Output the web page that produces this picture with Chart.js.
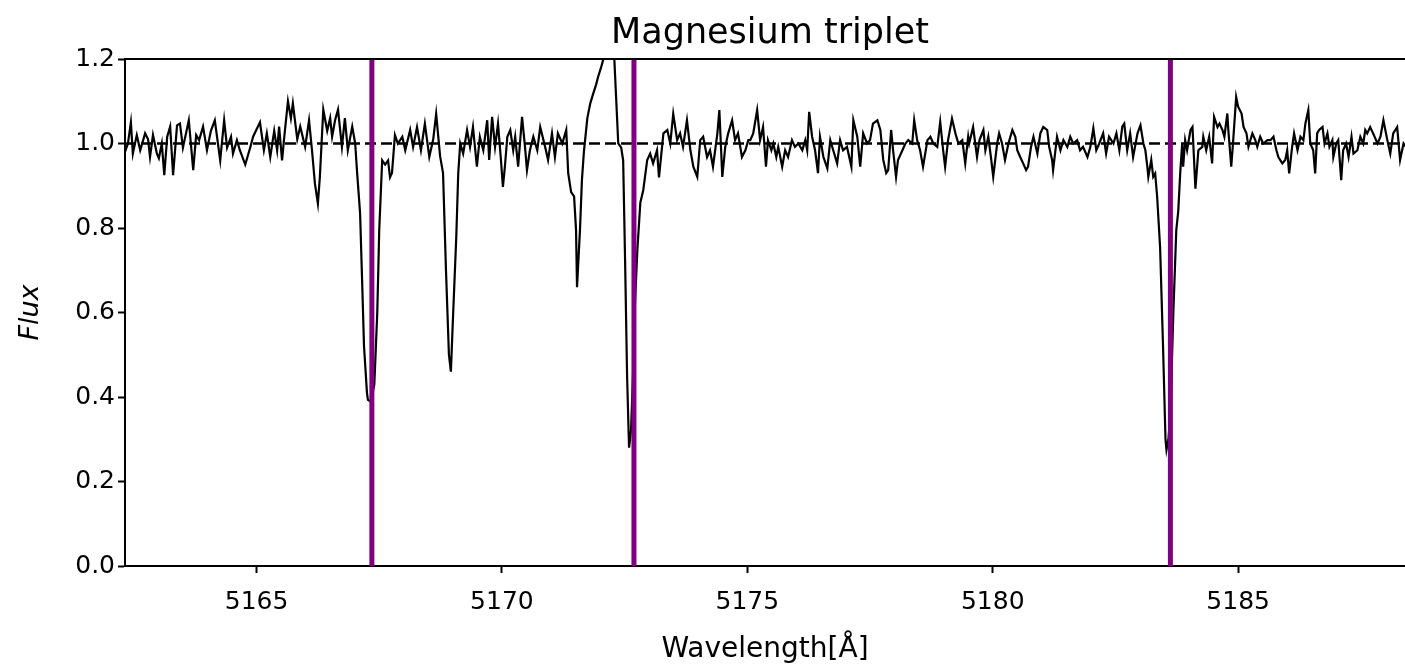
<!DOCTYPE html>
<html>
<head>
<meta charset="utf-8">
<script src="https://cdn.jsdelivr.net/npm/chart.js@4.4.1/dist/chart.umd.min.js"></script>
<style>
  html, body { margin: 0; padding: 0; background: #fff; }
  #spec { display: block; }
</style>
</head>
<body>
<canvas id="spec" width="1405" height="669"></canvas>
<script>
// spectrum (wavelength in angstrom, normalised flux)
const wavelength = [
  5162.32, 5162.38, 5162.44, 5162.48, 5162.56, 5162.63, 5162.73, 5162.79, 5162.83, 5162.89,
  5162.97, 5163.01, 5163.07, 5163.12, 5163.18, 5163.24, 5163.30, 5163.38, 5163.44, 5163.50,
  5163.62, 5163.71, 5163.77, 5163.83, 5163.91, 5163.99, 5164.07, 5164.15, 5164.26, 5164.34,
  5164.40, 5164.48, 5164.52, 5164.60, 5164.66, 5164.77, 5164.87, 5164.93, 5165.07, 5165.15,
  5165.21, 5165.28, 5165.36, 5165.42, 5165.46, 5165.52, 5165.56, 5165.64, 5165.70, 5165.74,
  5165.83, 5165.89, 5165.99, 5166.07, 5166.13, 5166.19, 5166.25, 5166.29, 5166.36, 5166.44,
  5166.50, 5166.54, 5166.60, 5166.66, 5166.74, 5166.80, 5166.86, 5166.95, 5167.01, 5167.05,
  5167.11, 5167.15, 5167.19, 5167.25, 5167.27, 5167.31, 5167.35, 5167.40, 5167.46, 5167.50,
  5167.56, 5167.62, 5167.68, 5167.72, 5167.76, 5167.82, 5167.88, 5167.97, 5168.03, 5168.13,
  5168.19, 5168.27, 5168.35, 5168.43, 5168.52, 5168.60, 5168.66, 5168.74, 5168.80, 5168.86,
  5168.92, 5168.96, 5169.00, 5169.07, 5169.11, 5169.15, 5169.21, 5169.29, 5169.35, 5169.41,
  5169.49, 5169.55, 5169.62, 5169.70, 5169.74, 5169.80, 5169.86, 5169.92, 5169.98, 5170.02,
  5170.06, 5170.11, 5170.17, 5170.23, 5170.27, 5170.33, 5170.41, 5170.47, 5170.51, 5170.57,
  5170.64, 5170.72, 5170.78, 5170.88, 5170.94, 5171.02, 5171.08, 5171.14, 5171.23, 5171.31,
  5171.35, 5171.41, 5171.47, 5171.51, 5171.53, 5171.59, 5171.63, 5171.67, 5171.74, 5171.80,
  5171.86, 5171.92, 5171.96, 5172.02, 5172.06, 5172.10, 5172.16, 5172.23, 5172.29, 5172.33,
  5172.37, 5172.43, 5172.47, 5172.51, 5172.55, 5172.59, 5172.63, 5172.67, 5172.71, 5172.76,
  5172.82, 5172.88, 5172.96, 5173.02, 5173.08, 5173.16, 5173.20, 5173.29, 5173.37, 5173.43,
  5173.49, 5173.57, 5173.63, 5173.69, 5173.77, 5173.84, 5173.90, 5173.98, 5174.04, 5174.10,
  5174.18, 5174.24, 5174.30, 5174.39, 5174.43, 5174.49, 5174.55, 5174.61, 5174.69, 5174.75,
  5174.81, 5174.89, 5174.96, 5175.02, 5175.06, 5175.12, 5175.20, 5175.26, 5175.32, 5175.38,
  5175.42, 5175.49, 5175.53, 5175.59, 5175.63, 5175.71, 5175.77, 5175.83, 5175.91, 5175.97,
  5176.04, 5176.12, 5176.18, 5176.22, 5176.26, 5176.32, 5176.38, 5176.44, 5176.48, 5176.55,
  5176.63, 5176.69, 5176.75, 5176.83, 5176.89, 5176.95, 5177.03, 5177.12, 5177.16, 5177.24,
  5177.30, 5177.36, 5177.44, 5177.50, 5177.56, 5177.65, 5177.71, 5177.77, 5177.83, 5177.87,
  5177.93, 5177.97, 5178.03, 5178.07, 5178.16, 5178.22, 5178.28, 5178.36, 5178.40, 5178.46,
  5178.52, 5178.58, 5178.67, 5178.73, 5178.79, 5178.87, 5178.93, 5178.99, 5179.03, 5179.09,
  5179.17, 5179.24, 5179.30, 5179.38, 5179.44, 5179.50, 5179.52, 5179.60, 5179.68, 5179.73,
  5179.81, 5179.85, 5179.91, 5179.97, 5180.01, 5180.09, 5180.13, 5180.19, 5180.25, 5180.32,
  5180.40, 5180.46, 5180.50, 5180.56, 5180.62, 5180.68, 5180.72, 5180.78, 5180.83, 5180.91,
  5180.97, 5181.03, 5181.11, 5181.15, 5181.21, 5181.23, 5181.31, 5181.38, 5181.44, 5181.52,
  5181.58, 5181.64, 5181.72, 5181.78, 5181.84, 5181.93, 5181.99, 5182.05, 5182.11, 5182.17,
  5182.25, 5182.31, 5182.37, 5182.46, 5182.52, 5182.58, 5182.64, 5182.68, 5182.74, 5182.80,
  5182.86, 5182.95, 5183.01, 5183.07, 5183.11, 5183.15, 5183.17, 5183.23, 5183.27, 5183.31,
  5183.35, 5183.41, 5183.47, 5183.52, 5183.54, 5183.58, 5183.62, 5183.68, 5183.74, 5183.78,
  5183.82, 5183.86, 5183.88, 5183.92, 5183.96, 5184.03, 5184.07, 5184.13, 5184.19, 5184.27,
  5184.29, 5184.35, 5184.41, 5184.47, 5184.51, 5184.58, 5184.62, 5184.68, 5184.72, 5184.78,
  5184.80, 5184.86, 5184.90, 5184.96, 5185.00, 5185.07, 5185.11, 5185.17, 5185.21, 5185.29,
  5185.35, 5185.39, 5185.45, 5185.51, 5185.60, 5185.66, 5185.72, 5185.78, 5185.82, 5185.90,
  5185.96, 5186.00, 5186.04, 5186.10, 5186.14, 5186.21, 5186.27, 5186.33, 5186.37, 5186.43,
  5186.47, 5186.53, 5186.57, 5186.61, 5186.65, 5186.72, 5186.76, 5186.82, 5186.86, 5186.92,
  5186.94, 5187.00, 5187.04, 5187.10, 5187.14, 5187.20, 5187.25, 5187.31, 5187.35, 5187.43,
  5187.49, 5187.55, 5187.59, 5187.63, 5187.69, 5187.75, 5187.84, 5187.90, 5187.96, 5188.04,
  5188.10, 5188.16, 5188.24, 5188.30, 5188.37, 5188.43
];
const flux = [
  0.98, 1.0, 1.05, 0.976, 1.02, 0.984, 1.024, 1.01, 0.968, 1.02,
  0.976, 0.965, 1.0, 0.925, 1.016, 1.04, 0.925, 1.043, 1.047, 0.99,
  1.055, 0.937, 1.02, 1.008, 1.04, 0.984, 1.03, 1.055, 0.96, 1.055,
  0.99, 1.016, 0.976, 1.008, 0.984, 0.95, 0.99, 1.016, 1.05, 0.984,
  1.024, 0.968, 1.03, 0.984, 1.04, 0.96, 1.01, 1.10, 1.06, 1.095,
  1.01, 1.04, 0.992, 1.055, 0.984, 0.905, 0.858, 0.92, 1.08, 1.03,
  1.06, 1.016, 1.055, 1.08, 0.992, 1.06, 0.984, 1.04, 1.0, 0.93,
  0.835, 0.68, 0.52, 0.41, 0.393, 0.39, 0.40, 0.43, 0.6, 0.795,
  0.96, 0.95, 0.96, 0.92, 0.93, 1.02, 1.0, 1.016, 0.984, 1.032,
  0.992, 1.039, 0.984, 1.047, 0.968, 1.01, 1.07, 0.97, 0.93, 0.70,
  0.50, 0.46, 0.58, 0.78, 0.93, 1.0, 0.976, 1.032, 0.992, 1.039,
  0.945, 1.016, 0.984, 1.055, 0.961, 1.063, 0.992, 1.047, 0.961, 0.897,
  0.945, 1.016, 1.032, 0.984, 1.016, 0.945, 1.063, 0.992, 0.937, 0.984,
  1.016, 0.984, 1.039, 0.992, 0.961, 1.024, 0.968, 1.024, 1.0, 1.032,
  0.93, 0.885, 0.875, 0.795, 0.66, 0.795, 0.914, 0.98, 1.06, 1.095,
  1.118, 1.14, 1.158, 1.18, 1.197, 1.21, 1.22, 1.21, 1.2, 1.1,
  1.0, 0.99, 0.96, 0.72, 0.45, 0.28, 0.32, 0.45, 0.62, 0.75,
  0.86, 0.89, 0.961, 0.976, 0.953, 0.984, 0.92, 1.024, 1.032, 1.0,
  1.07, 1.008, 1.024, 0.992, 1.055, 0.984, 0.945, 0.921, 1.008, 1.016,
  0.968, 0.984, 0.945, 1.024, 1.079, 0.921, 0.992, 1.024, 1.055, 1.008,
  1.024, 0.968, 0.984, 1.008, 1.008, 1.024, 1.079, 1.008, 1.039, 0.945,
  1.008, 0.984, 1.0, 0.968, 0.992, 0.945, 0.984, 0.968, 1.008, 0.992,
  1.0, 0.984, 1.008, 0.984, 1.075, 1.016, 0.984, 0.93, 1.016, 0.968,
  0.941, 1.008, 0.984, 0.953, 1.008, 0.984, 0.992, 0.945, 1.055, 1.016,
  0.945, 1.024, 1.0, 1.008, 1.047, 1.055, 1.032, 0.961, 0.93, 0.937,
  1.032, 0.984, 0.921, 0.961, 0.984, 1.0, 1.008, 1.0, 1.055, 1.008,
  0.984, 0.945, 1.008, 1.016, 1.0, 0.992, 1.051, 0.984, 0.945, 1.008,
  1.059, 1.024, 1.0, 1.008, 0.953, 1.016, 1.0, 1.039, 0.968, 1.008,
  1.032, 0.984, 1.016, 0.961, 0.921, 1.0, 1.024, 1.0, 0.961, 1.0,
  1.032, 1.016, 0.984, 0.968, 0.953, 0.937, 0.945, 0.992, 1.016, 0.976,
  1.024, 1.039, 1.032, 0.992, 0.961, 0.937, 1.016, 0.984, 1.008, 0.992,
  1.016, 1.0, 1.008, 0.984, 0.992, 0.968, 0.992, 1.036, 0.984, 1.0,
  1.024, 0.976, 1.016, 1.0, 1.024, 0.984, 1.04, 1.047, 0.984, 1.024,
  0.968, 1.024, 1.043, 1.0, 0.984, 0.945, 0.921, 0.961, 0.921, 0.929,
  0.874, 0.755, 0.52, 0.30, 0.275, 0.30, 0.36, 0.60, 0.795, 0.84,
  0.93, 1.0, 0.945, 1.008, 0.984, 1.032, 1.039, 0.893, 0.984, 0.992,
  1.016, 0.984, 1.016, 0.953, 1.063, 1.039, 1.047, 1.032, 1.016, 1.071,
  1.032, 0.945, 1.008, 1.11, 1.087, 1.071, 1.039, 1.024, 0.992, 1.024,
  1.008, 0.992, 1.016, 1.0, 1.008, 1.008, 1.016, 0.984, 0.968, 0.953,
  0.961, 0.984, 0.929, 0.992, 1.024, 0.984, 1.016, 1.008, 1.047, 1.079,
  1.0, 0.984, 0.929, 1.024, 1.032, 1.039, 1.0, 1.024, 0.992, 1.008,
  0.968, 1.0, 1.008, 0.913, 0.984, 1.0, 0.968, 1.016, 0.976, 0.984,
  1.016, 1.0, 1.032, 1.024, 1.039, 1.024, 1.0, 1.016, 1.055, 1.008,
  0.976, 1.024, 1.039, 0.961, 1.0, 0.99
];

// Mg b lines
const mgLines = [5167.35, 5172.69, 5183.62];
const continuum = 1.0;

const xMin = 5162.32;
const xMax = 5188.40;
const yMin = 0;
const yMax = 1.2;

const titleText = "Magnesium triplet";
const xLabel = "Wavelength[Å]";
const yLabel = "Flux";

const fontFam = "'DejaVu Sans', sans-serif";

// build the datasets
var specPts = [];
for (let i = 0; i < wavelength.length; i++) {
  specPts.push({x: wavelength[i], y: flux[i]});
}

var datasets = [];
// first in list = drawn on top
for (let i = 0; i < mgLines.length; i++) {
  datasets.push({
    data: [{x: mgLines[i], y: yMin}, {x: mgLines[i], y: yMax}],
    borderColor: "#800080",
    borderWidth: 5,
    pointRadius: 0,
    clip: 0
  });
}
datasets.push({
  data: [{x: xMin, y: continuum}, {x: xMax, y: continuum}],
  borderColor: "#000",
  borderWidth: 2.6,
  borderDash: [11, 5],
  pointRadius: 0
});
datasets.push({
  data: specPts,
  borderColor: "#000",
  borderWidth: 2.2,
  pointRadius: 0,
  tension: 0,
  clip: 1
});

// top spine + title, matplotlib style
const framePlugin = {
  id: "frame",
  afterDraw(chart) {
    const c = chart.ctx;
    const a = chart.chartArea;
    c.save();
    c.strokeStyle = "#000";
    c.lineWidth = 2;
    c.beginPath();
    c.moveTo(a.left, a.top);
    c.lineTo(a.right, a.top);
    c.stroke();
    c.fillStyle = "#000";
    c.font = "35px " + fontFam;
    c.textAlign = "center";
    c.textBaseline = "alphabetic";
    c.fillText(titleText, (a.left + a.right) / 2 + 5, 43);
    c.restore();
  }
};

const ctx = document.getElementById("spec").getContext("2d");

var chart = new Chart(ctx, {
  type: "line",
  data: { datasets: datasets },
  options: {
    responsive: false,
    animation: false,
    devicePixelRatio: 1,
    layout: { padding: { top: 59, right: 0, left: 0, bottom: 0 } },
    plugins: {
      legend: { display: false },
      tooltip: { enabled: false },
      title: { display: false }
    },
    scales: {
      x: {
        type: "linear",
        min: xMin,
        max: xMax,
        afterFit: function(s) { s.height = 103; },
        ticks: {
          stepSize: 5,
          includeBounds: false,
          color: "#000",
          padding: 14,
          maxRotation: 0,
          font: { family: fontFam, size: 25 },
          callback: function(v) { return v.toFixed(0); }
        },
        grid: { drawOnChartArea: false, drawTicks: true, tickLength: 7, tickColor: "#000", tickWidth: 2 },
        border: { color: "#000", width: 2 },
        title: {
          display: true,
          text: xLabel,
          color: "#000",
          font: { family: fontFam, size: 28 },
          padding: { top: 0, bottom: 2 }
        }
      },
      y: {
        min: yMin,
        max: yMax,
        afterFit: function(s) { s.width = 125; },
        ticks: {
          stepSize: 0.2,
          includeBounds: false,
          color: "#000",
          padding: 3,
          font: { family: fontFam, size: 25 },
          callback: function(v) { return v.toFixed(1); }
        },
        grid: { drawOnChartArea: false, drawTicks: true, tickLength: 7, tickColor: "#000", tickWidth: 2 },
        border: { color: "#000", width: 2 },
        title: {
          display: true,
          text: yLabel,
          color: "#000",
          font: { family: fontFam, size: 27, style: "italic" },
          padding: { top: 15, bottom: 0 }
        }
      }
    }
  },
  plugins: [framePlugin]
});
</script>
</body>
</html>
